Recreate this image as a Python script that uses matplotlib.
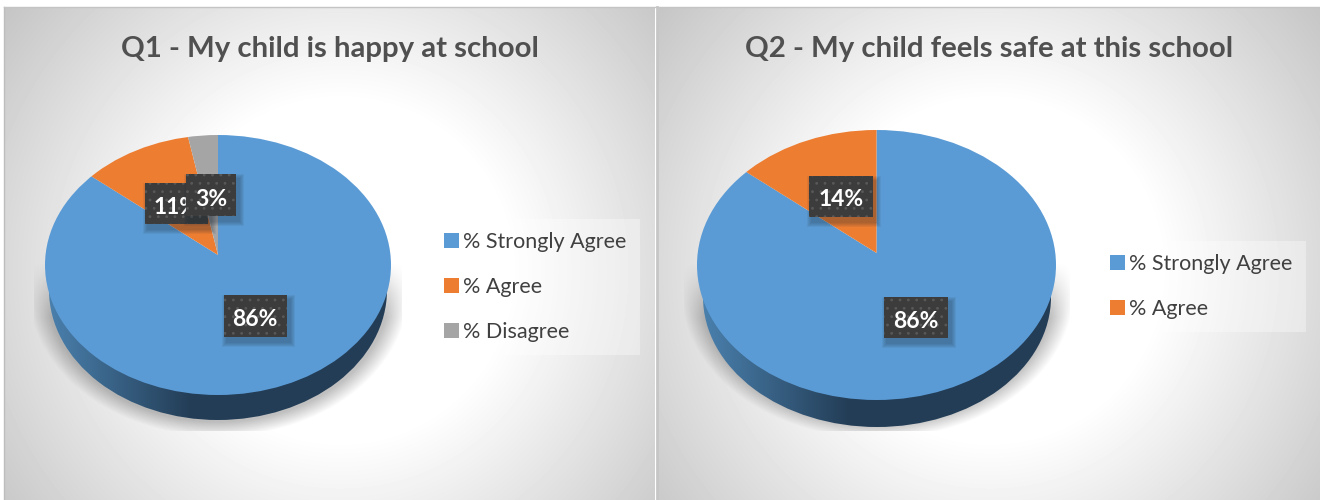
#!/usr/bin/env python3

import numpy as np
import matplotlib
matplotlib.use('Agg')
import matplotlib.pyplot as plt
from matplotlib.patches import Ellipse, Rectangle

plt.rcParams['font.family'] = ['Lato', 'DejaVu Sans']
plt.rcParams['hatch.linewidth'] = 0.8

W, H = 1320, 500

# data
q1_title = 'Q1 - My child is happy at school'
q1_labels = ['% Strongly Agree', '% Agree', '% Disagree']
q1_values = [86, 11, 3]
q1_text = ['86%', '11%', '3%']

q2_title = 'Q2 - My child feels safe at this school'
q2_labels = ['% Strongly Agree', '% Agree']
q2_values = [86, 14]
q2_text = ['86%', '14%']

colors = ['#5b9bd5', '#ed7d31', '#a5a5a5']


def gradient_panel(ax, x0, x1, y0, y1, cx, cy):
    # grey panel, fades to white around (cx,cy)
    xx, yy = np.meshgrid(np.arange(x0, x1), np.arange(y0, y1))
    d = np.sqrt((xx - cx)**2 + (yy - cy)**2)
    g = 255 - np.clip(d - 170, 0, None) * 0.228
    ax.imshow(g, cmap='gray', vmin=0, vmax=255, extent=(x0, x1, y1, y0),
              aspect='auto', zorder=1)


def draw_shadow(ax, cx, cy, rx, ry, x0, x1, y0, y1):
    xx, yy = np.meshgrid(np.arange(x0, x1), np.arange(y0, y1))
    d = np.sqrt(((xx - cx) / rx)**2 + ((yy - cy) / ry)**2)
    a = np.clip((1 - d) / 0.10, 0, 1) * 0.38
    # fades out going up so there is no hard top edge
    a = a * np.clip((yy - y0) / 55.0, 0, 1)
    img = np.zeros(d.shape + (4,))
    img[..., :3] = 0.35
    img[..., 3] = a
    ax.imshow(img, extent=(x0, x1, y1, y0), aspect='auto', zorder=2)


def draw_side(ax, cx, cy, rx, ry, top_cy):
    # side of the disc: horizontal gradient clipped to the lower ellipse
    x0, x1 = cx - rx, cx + rx
    t = np.clip((np.arange(x0, x1) - x0) / (0.42 * 2 * rx), 0, 1)
    light = np.array([0x4a, 0x80, 0xad]) / 255.0
    dark = np.array([0x23, 0x3d, 0x56]) / 255.0
    img = (light[None, :] * (1 - t[:, None]) + dark[None, :] * t[:, None])[None, :, :]
    im = ax.imshow(img, extent=(x0, x1, cy + ry, top_cy), aspect='auto', zorder=3)
    im.set_clip_path(Ellipse((cx, cy), 2 * rx, 2 * ry, transform=ax.transData))


def draw_pie(rect, values, apex_y):
    # rect is left,right,top,bottom in pixels
    l, r, t, b = rect
    ax = fig.add_axes([l / W, 1 - b / H, (r - l) / W, (b - t) / H], zorder=3)
    ry = (b - t) / 2.0
    cy = (b + t) / 2.0
    dy = (cy - apex_y) / ry
    wedges, _ = ax.pie(values, colors=colors, startangle=90, counterclock=False,
                       center=(0, dy), radius=1.6)
    ax.set_aspect('auto')
    ax.set_xlim(-1, 1)
    ax.set_ylim(-1, 1)
    ax.patch.set_visible(False)
    clip = Ellipse((0, 0), 2, 2, transform=ax.transData)
    for w in wedges:
        # pie turns clipping off on its wedges
        w.set_clip_on(True)
        w.set_clip_path(clip)
    return ax, wedges


def draw_label(ax, x0, x1, y0, y1, text, tx, ty):
    # soft shadow then the dotted dark box
    for i in range(5, 0, -1):
        ax.add_patch(Rectangle((x0 + 2 - i + 1, y0 + 4 - i + 1), x1 - x0 + 2 * i, y1 - y0 + 2 * i,
                               fc='#1c2a38', ec='none', alpha=0.07, zorder=5))
    ax.add_patch(Rectangle((x0, y0), x1 - x0, y1 - y0, fc='#3c3c3c', ec='#585858',
                           hatch='..', lw=0, zorder=5))
    ax.text(tx, ty + 3, text, color='white', fontsize=16.5, fontweight='bold',
            ha='center', va='center', zorder=5)


def add_legend(ax, wedges, labels, x, y):
    leg = ax.legend(wedges, labels, loc='upper left', bbox_to_anchor=(x / W, 1 - y / H),
                    bbox_transform=fig.transFigure, fontsize=15.5, frameon=True,
                    fancybox=False, framealpha=0.35, facecolor='#ffffff', edgecolor='none',
                    labelcolor='#404040', handlelength=0.7, handleheight=0.7,
                    handletextpad=0.17, labelspacing=1.15, borderpad=0.62,
                    borderaxespad=0)
    return leg


fig = plt.figure(figsize=(W / 100, H / 100), dpi=100, facecolor='white')

bg = fig.add_axes([0, 0, 1, 1], zorder=1)
bg.set_xlim(0, W)
bg.set_ylim(H, 0)
bg.axis('off')

gradient_panel(bg, 4, 655, 7, H, 340, 270)
gradient_panel(bg, 658, W, 7, H, 990, 270)
bg.set_xlim(0, W)
bg.set_ylim(H, 0)
bg.plot([4, 4], [7, H], color='#bdbdbd', lw=1, zorder=3)
bg.plot([4, W], [7, 7], color='#c4c4c4', lw=1, zorder=3)
bg.plot([656.5, 656.5], [7, H], color='#c6c6c6', lw=2, zorder=3)

bg.text(330, 49, q1_title, color='#505050', fontsize=21.2, fontweight='bold',
        ha='center', va='center', zorder=4)
bg.text(989, 49, q2_title, color='#505050', fontsize=21.2, fontweight='bold',
        ha='center', va='center', zorder=4)

draw_shadow(bg, 218, 290, 190, 146, 34, 402, 262, 431)
draw_shadow(bg, 877, 292, 196, 146, 684, 1070, 262, 431)
draw_side(bg, 218, 290, 169, 130, 265)
draw_side(bg, 877, 297, 174, 130, 265)

ax1, w1 = draw_pie((45, 391, 135, 395), q1_values, 255)
ax2, w2 = draw_pie((697, 1056, 130, 400), q2_values, 253)

add_legend(ax1, w1, q1_labels, 431, 219)
add_legend(ax2, w2, q2_labels, 1097, 241)

top = fig.add_axes([0, 0, 1, 1], zorder=5)
top.set_xlim(0, W)
top.set_ylim(H, 0)
top.axis('off')

draw_label(top, 224, 287, 295, 337, q1_text[0], 255, 316)
draw_label(top, 145, 208, 183, 224, q1_text[1], 176, 204)
draw_label(top, 186, 236, 174, 216, q1_text[2], 211, 196)
draw_label(top, 884, 948, 297, 338, q2_text[0], 916, 318)
draw_label(top, 809, 873, 176, 217, q2_text[1], 841, 197)

fig.savefig('out.png', dpi=100)
